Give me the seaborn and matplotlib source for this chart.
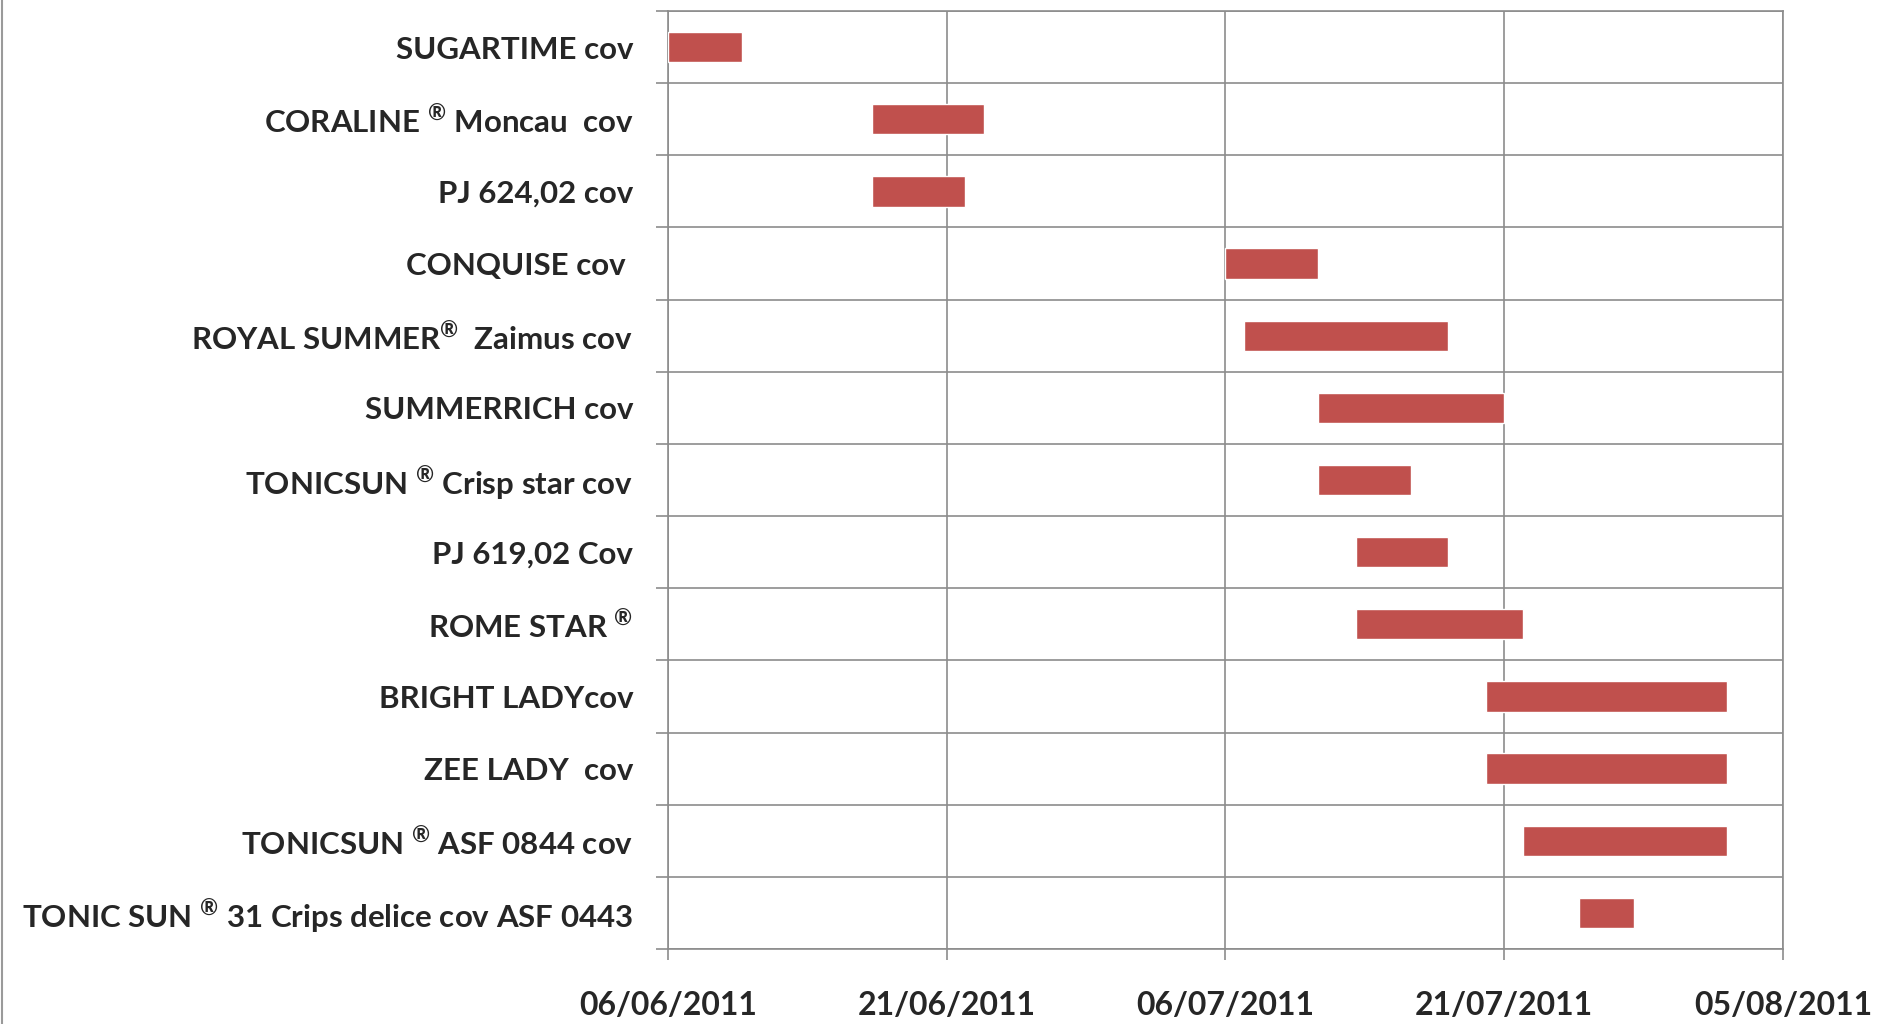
import pandas as pd
import seaborn as sns
import matplotlib.pyplot as plt
import matplotlib.dates as mdates
from matplotlib.lines import Line2D
from matplotlib.ticker import FixedLocator

R = r"$^{\mathregular{\u00ae}}$".replace(r"\u00ae", "\u00ae")  # small raised (R) sign

# varieties, top to bottom
varieties = [
    "SUGARTIME cov",
    "CORALINE " + R + " Moncau  cov",
    "PJ 624,02 cov",
    "CONQUISE cov ",
    "ROYAL SUMMER" + R + "  Zaimus cov",
    "SUMMERRICH cov",
    "TONICSUN " + R + " Crisp star cov",
    "PJ 619,02 Cov",
    "ROME STAR " + R,
    "BRIGHT LADYcov",
    "ZEE LADY  cov",
    "TONICSUN " + R + " ASF 0844 cov",
    "TONIC SUN " + R + " 31 Crips delice cov ASF 0443",
]
start_dates = ["2011-06-06", "2011-06-17", "2011-06-17", "2011-07-06", "2011-07-07",
               "2011-07-11", "2011-07-11", "2011-07-13", "2011-07-13", "2011-07-20",
               "2011-07-20", "2011-07-22", "2011-07-25"]
end_dates = ["2011-06-10", "2011-06-23", "2011-06-22", "2011-07-11", "2011-07-18",
             "2011-07-21", "2011-07-16", "2011-07-18", "2011-07-22", "2011-08-02",
             "2011-08-02", "2011-08-02", "2011-07-28"]
tick_dates = ["2011-06-06", "2011-06-21", "2011-07-06", "2011-07-21", "2011-08-05"]

df = pd.DataFrame({"variety": varieties,
                   "start": pd.to_datetime(start_dates),
                   "end": pd.to_datetime(end_dates)})
df["start_num"] = mdates.date2num(df["start"])
df["days"] = (df["end"] - df["start"]).dt.days

sns.set_style("white")
plt.rcParams["font.family"] = ["Lato", "DejaVu Sans"]
plt.rcParams["mathtext.default"] = "regular"

fig = plt.figure(figsize=(18.78, 10.24), dpi=100)
ax = fig.add_axes([0.3557, 0.0732, 0.5937, 0.9161])

grid_col = "#8c8c8c"
sns.barplot(data=df, x="days", y="variety", order=varieties, orient="y",
            left=df["start_num"].values, color="#C0504D", saturation=1,
            width=0.42, ax=ax, zorder=3)

ticks = mdates.date2num(pd.to_datetime(tick_dates))
ax.set_xlim(ticks[0], ticks[-1])
ax.set_xticks(ticks)
ax.xaxis.set_major_formatter(mdates.DateFormatter("%d/%m/%Y"))
ax.set_ylim(len(varieties) - 0.5, -0.5)

ax.yaxis.set_minor_locator(FixedLocator([i - 0.5 for i in range(len(varieties) + 1)]))
ax.grid(True, axis="x", which="major", color=grid_col, lw=1.2, zorder=0)
ax.grid(True, axis="y", which="minor", color=grid_col, lw=1.2, zorder=0)
ax.set_axisbelow(True)

ax.tick_params(axis="y", which="major", length=0, pad=25, labelsize=22.5)
ax.tick_params(axis="y", which="minor", left=True, length=9, width=1.2, color=grid_col, direction="out")
ax.tick_params(axis="x", which="major", bottom=True, length=8, width=1.2, color=grid_col,
               direction="out", pad=22, labelsize=23)
for lab in ax.get_yticklabels() + ax.get_xticklabels():
    lab.set_fontweight("bold")

for sp in ax.spines.values():
    sp.set_color(grid_col)
    sp.set_linewidth(1.2)

ax.set_xlabel("")
ax.set_ylabel("")

# thin frame line on the left edge of the image
fig.add_artist(Line2D([0.0012, 0.0012], [0, 1], transform=fig.transFigure, color="#9a9a9a", lw=1.5))

fig.savefig("out.png", dpi=100)
